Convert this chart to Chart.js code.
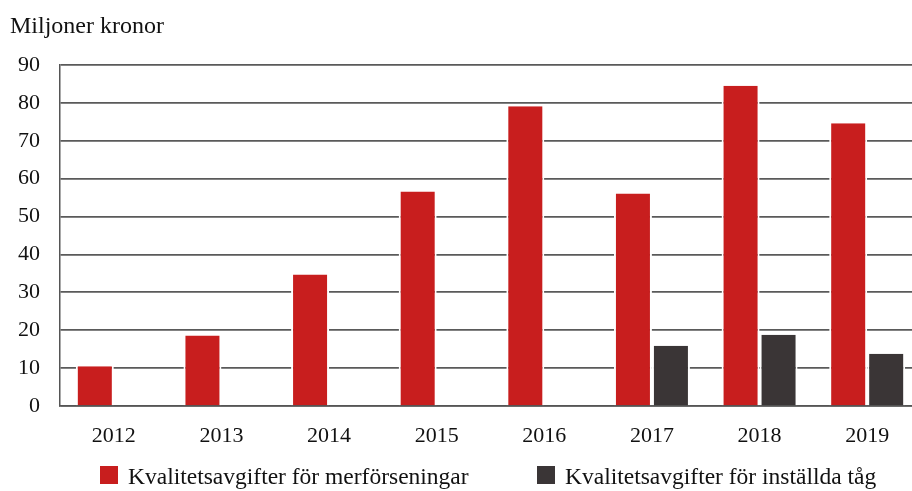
<!DOCTYPE html>
<html><head><meta charset="utf-8">
<script src="https://cdn.jsdelivr.net/npm/chart.js@4/dist/chart.umd.min.js"></script>
<style>
html,body{margin:0;padding:0;overflow:hidden;background:#fff;width:912px;height:491px;}
#wrap{position:relative;width:925px;height:491px;}
#title{position:absolute;left:10px;top:12px;font-family:"Liberation Serif",serif;font-size:24px;color:#111;}
.leg{position:absolute;top:463px;font-family:"Liberation Serif",serif;font-size:23.5px;color:#111;white-space:nowrap;}
.sw{position:absolute;left:0;top:3px;width:18px;height:18px;}
.lt{position:absolute;left:28px;top:0;}
</style></head>
<body>
<div id="wrap">
<canvas id="c" width="925" height="491"></canvas>
<div id="title">Miljoner kronor</div>
<div class="leg" style="left:100px"><div class="sw" style="background:#c81e1e"></div><div class="lt" id="l0"></div></div>
<div class="leg" style="left:537px"><div class="sw" style="background:#3a3536"></div><div class="lt" id="l1"></div></div>
</div>
<script>
const categories = ["2012","2013","2014","2015","2016","2017","2018","2019"];
const seriesNames = ["Kvalitetsavgifter för merförseningar","Kvalitetsavgifter för inställda tåg"];
const merforseningar = [10.5, 18.6, 34.7, 56.6, 79.1, 56.1, 84.5, 74.6];
const installda = [null, null, null, null, null, 15.9, 18.8, 13.8];
const yTicks = [0,10,20,30,40,50,60,70,80,90];

document.getElementById('l0').textContent = seriesNames[0];
document.getElementById('l1').textContent = seriesNames[1];

const FONT = "Liberation Serif";
new Chart(document.getElementById('c'), {
  type: 'bar',
  data: {
    labels: categories,
    datasets: [
      {label: seriesNames[0], data: merforseningar, backgroundColor:'#c81e1e', borderColor:'#ffffff',
       borderWidth:{left:2,right:2,top:0,bottom:0}, borderSkipped:'bottom'},
      {label: seriesNames[1], data: installda, backgroundColor:'#3a3536', borderColor:'#ffffff',
       borderWidth:{left:2,right:2,top:0,bottom:0}, borderSkipped:'bottom'}
    ]
  },
  options: {
    responsive:false, animation:false, devicePixelRatio:1,
    layout:{padding:{top:65,right:4,left:0,bottom:0}},
    plugins:{legend:{display:false}, tooltip:{enabled:false}},
    datasets:{bar:{categoryPercentage:0.706, barPercentage:1.0}},
    scales:{
      x:{
        grid:{display:false, drawTicks:false},
        border:{display:true,color:'#555',width:1.5},
        ticks:{color:'#111',font:{family:FONT,size:22},padding:17,maxRotation:0},
        afterFit(s){ s.height = 85; }
      },
      y:{
        min:0,max:90,
        afterBuildTicks(s){ s.ticks = yTicks.map(v=>({value:v})); },
        grid:{color:'#5a5a5a',lineWidth:1.7,drawTicks:false},
        border:{display:true,color:'#555',width:1.5},
        ticks:{color:'#111',font:{family:FONT,size:22},padding:20},
        afterFit(s){ s.width = 60; }
      }
    }
  }
});
</script>
</body></html>
